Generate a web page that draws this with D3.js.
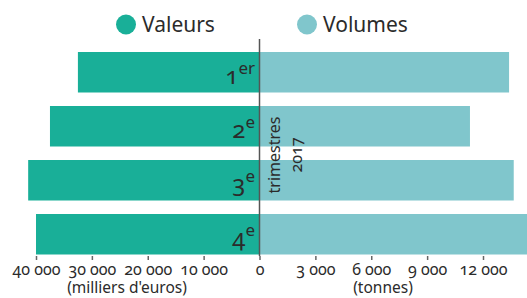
<!DOCTYPE html>
<html>
<head>
<meta charset="utf-8">
<script src="https://cdn.jsdelivr.net/npm/d3@7"></script>
<style>
  body { margin: 0; background: #fff; }
  svg text { font-family: "Noto Sans", "Open Sans", sans-serif; font-variant-numeric: oldstyle-nums; fill: #2b2b2b; }
</style>
</head>
<body>
<div id="chart"></div>
<script>
// quarters 2017
const quarters = ["1", "2", "3", "4"];
const sups = ["er", "e", "e", "e"];
// thousands of euros
const valeurs = [32500, 37500, 41400, 40000];
// tonnes
const volumes = [13400, 11300, 13650, 14600];

const leftTicks = [40000, 30000, 20000, 10000, 0];
const rightTicks = [3000, 6000, 9000, 12000];

const width = 527;
const height = 298;
const zeroX = 259.5;

const colValeurs = "#19af98";
const colVolumes = "#80c6cc";

const svg = d3.select("#chart")
    .append("svg")
    .attr("width", width)
    .attr("height", height);

const fr = d3.formatLocale({decimal: ",", thousands: "\u00a0", grouping: [3], currency: ["", " €"]});
const fmt = fr.format(",d");

const xL = d3.scaleLinear().domain([0, 40000]).range([zeroX, 36]);
const xR = d3.scaleLinear().domain([0, 12000]).range([zeroX, 483]);

const y = d3.scaleBand()
    .domain(quarters)
    .range([52, 254.5])
    .paddingInner(0.25)
    .paddingOuter(0);

// Bars
svg.append("g").selectAll("rect")
    .data(quarters)
    .join("rect")
    .attr("x", (d, i) => xL(valeurs[i]))
    .attr("y", d => y(d))
    .attr("width", (d, i) => zeroX - xL(valeurs[i]))
    .attr("height", y.bandwidth())
    .attr("fill", colValeurs);

svg.append("g").selectAll("rect")
    .data(quarters)
    .join("rect")
    .attr("x", zeroX)
    .attr("y", d => y(d))
    .attr("width", (d, i) => xR(volumes[i]) - zeroX)
    .attr("height", y.bandwidth())
    .attr("fill", colVolumes);

// Center line
svg.append("line")
    .attr("x1", zeroX)
    .attr("x2", zeroX)
    .attr("y1", 39)
    .attr("y2", 256)
    .attr("stroke", "#555")
    .attr("stroke-width", 1.5);

// Quarter labels
const lab = svg.append("g").selectAll("text")
    .data(quarters)
    .join("text")
    .attr("x", 255)
    .attr("y", d => y(d) + 32)
    .attr("text-anchor", "end");
lab.append("tspan")
    .style("font-size", "24px")
    .text(d => d);
lab.append("tspan")
    .attr("dy", -10)
    .style("font-size", "17px")
    .text((d, i) => sups[i]);

// Rotated label
const rot = svg.append("text")
    .attr("transform", "translate(280,155) rotate(-90)")
    .attr("text-anchor", "middle")
    .style("font-size", "16px");
rot.append("tspan").attr("x", 0).attr("y", 0).text("trimestres");
rot.append("tspan").attr("x", 0).attr("y", 22).text("2017");

// Axes
const axisY = 256;
const gL = svg.append("g")
    .attr("transform", `translate(0,${axisY})`)
    .call(d3.axisBottom(xL).tickValues(leftTicks).tickFormat(fmt).tickSize(4).tickPadding(4));
const gR = svg.append("g")
    .attr("transform", `translate(0,${axisY})`)
    .call(d3.axisBottom(xR).tickValues(rightTicks).tickFormat(fmt).tickSize(4).tickPadding(4));
[gL, gR].forEach(g => {
    g.select(".domain").remove();
    g.selectAll(".tick line").attr("stroke", "#666").attr("stroke-width", 1.5);
    g.selectAll(".tick text")
        .attr("fill", "#2b2b2b")
        .style("font-size", "16px")
        .style("font-family", "\"Noto Sans\", sans-serif");
});

svg.append("text")
    .attr("x", 127)
    .attr("y", 293)
    .attr("text-anchor", "middle")
    .style("font-size", "15.5px")
    .text("(milliers d'euros)");

svg.append("text")
    .attr("x", 383)
    .attr("y", 293)
    .attr("text-anchor", "middle")
    .style("font-size", "15.5px")
    .text("(tonnes)");

// Legend
const legend = [
    {name: "Valeurs", color: colValeurs, cx: 126},
    {name: "Volumes", color: colVolumes, cx: 307}
];
const lg = svg.append("g").selectAll("g")
    .data(legend)
    .join("g");
lg.append("circle")
    .attr("cx", d => d.cx)
    .attr("cy", 24.5)
    .attr("r", 10)
    .attr("fill", d => d.color);
lg.append("text")
    .attr("x", d => d.cx + 16)
    .attr("y", 32)
    .style("font-size", "21px")
    .text(d => d.name);
</script>
</body>
</html>
